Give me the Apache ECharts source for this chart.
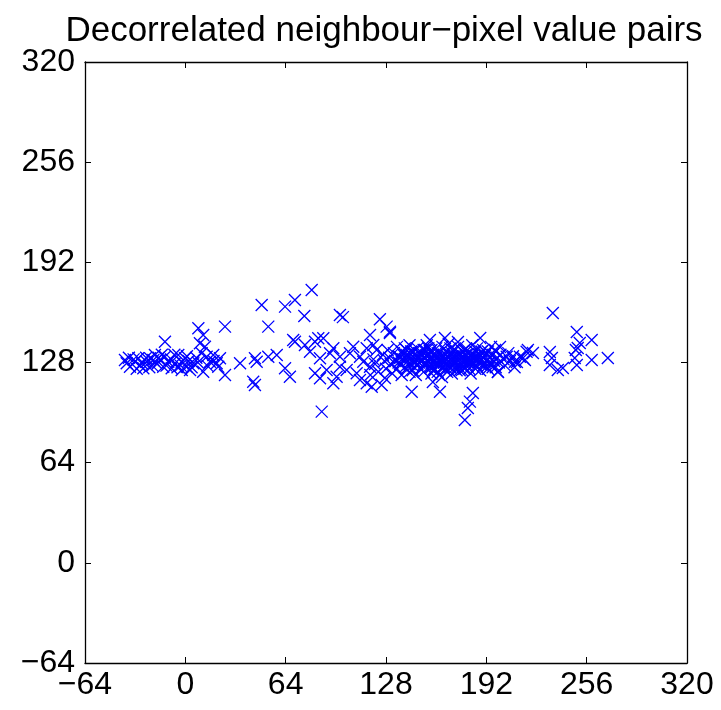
<!DOCTYPE html>
<html>
<head>
<meta charset="utf-8">
<script src="https://cdn.jsdelivr.net/npm/echarts@6/dist/echarts.min.js"></script>
<style>html,body{margin:0;padding:0;background:#fff}#c{width:721px;height:710px}</style>
</head>
<body>
<div id="c"></div>
<script>
var titleText = "Decorrelated neighbour\u2212pixel value pairs";
var xTicks = [-64, 0, 64, 128, 192, 256, 320];
var yTicks = [-64, 0, 64, 128, 192, 256, 320];

// left part of the band
var leftPairs = [
 [-37.4,127.5],[-35.3,125.3],[-38.5,129.6],[-32.1,128.5],[-30.0,130.7],[-27.8,127.5],[-26.8,124.3],
 [-24.7,128.5],[-22.5,130.7],[-20.4,129.6],[-19.4,132.8],[-13.0,141.3],[-16.2,129.6],[-13.0,131.7],
 [-10.9,128.5],[-8.7,124.3],[-6.6,127.5],[-4.5,132.8],[-2.3,128.5],[-0.2,130.7],[0.9,125.3],
 [3.0,123.2],[5.1,127.5],[8.3,149.9],[11.4,145.6],[9.3,140.3],[12.5,138.1],[10.4,133.9],[13.6,131.7],
 [15.7,128.5],[11.4,122.1],[17.8,132.8],[20.0,127.5],[-2.3,123.2],[-14.1,125.3],
 [-33,130],[-29,126],[-18,127],[-12,126],[2,129],[7,131],[-5,125],
 [-36,131],[-31,124],[-25,131],[-21,126],[-15,133],[-9,130],[-7,133],[-3,126],[1,132],[4,125],
 [8,128],[14,126],[18,129],[-23,125],[-17,131]
];
// middle scattered pairs
var midPairs = [
 [22.1,130.7],[21.0,125.3],[25.3,120.0],[34.9,127.5],[44.4,130.7],[45.5,128.5],[52.9,131.7],[58.3,132.8],
 [43.3,115.7],[44.4,113.6],[63.6,124.3],[66.7,118.9],[25.3,150.9],[48.7,164.7],[52.9,150.9],[63.6,163.7],
 [69.9,167.9],[80.6,174.3],[75.9,157.7],[69.9,141.3],[68.8,142.4],[76.3,139.2],[79.5,134.9],[82.7,141.3],
 [84.8,143.5],[85.9,130.7],[82.7,121.1],[85.9,117.9],[87.0,96.6],
 [98.6,158.4],[100.5,157.0],[124.1,155.6],[130.5,147.7],[128.4,150.9],[117.8,145.6],[88.0,143.5],[94.4,137.1],
 [92.3,133.9],[98.6,131.7],[105.0,133.9],[107.1,138.1],[111.4,131.7],[115.7,137.1],[119.9,139.2],
 [90.1,123.2],[94.4,114.7],[96.5,118.9],[102.9,123.2],[109.3,121.1],[111.4,116.8],[115.7,114.7],
 [118.9,112.5],[125.2,113.6],[123.1,122.1],[117.8,125.3],[144.4,109.3],[98.6,125.3],[113.5,128.5],
 [130.5,146.9],[156.0,142.4],[165.6,143.7],[173.9,141.1],[127.3,118.1],[157.9,115.5],[163.7,118.7],
 [176.4,123.2],[162.4,109.3],[120,130],[122,136],[118,120],[121,127]
];
// dense cluster
var densePairs = [
 [126,133],[127,129],[128,124],[129,136],[130,131],[131,127],[132,121],[133,134],[134,129],[135,138],
 [135,124],[136,132],[137,127],[138,135],[138,120],[139,130],[140,125],[140,137],[141,133],[142,129],
 [143,122],[143,139],[144,131],[145,126],[145,135],[146,129],[147,133],[147,120],[148,127],[148,137],
 [149,131],[150,124],[150,134],[151,129],[152,136],[152,122],[153,131],[154,127],[154,139],[155,133],
 [156,125],[156,130],[157,136],[157,121],[158,128],[158,133],[159,124],[160,131],[160,137],[161,127],
 [162,134],[162,120],[163,130],[164,125],[164,138],[165,132],[165,128],[166,123],[166,135],[167,130],
 [168,126],[168,140],[169,133],[170,129],[170,121],[171,136],[172,131],[172,125],[173,128],[174,134],
 [174,138],[175,123],[175,130],[176,127],[177,135],[177,132],[178,129],[178,124],[179,137],[180,131],
 [180,126],[181,134],[182,129],[182,121],[183,139],[183,132],[184,127],[185,135],[185,124],[186,130],
 [186,137],[187,128],[188,133],[188,123],[189,130],[190,136],[190,126],[191,132],[192,129],[193,135],
 [193,124],[194,131],[195,127],[195,138],[196,133],[197,129],[198,125],[198,135],[199,131],[200,128],
 [201,133],[203,130],[204,126],[206,134],[207,129],[209,132],[210,125],
 [142,131],[146,128],[151,132],[155,129],[159,132],[163,128],[167,132],[171,128],[176,131],[179,133],
 [153,126],[161,134],[169,125],[144,135],[149,128],[173,132],[157,130],[165,130],[181,129],[187,131],
 [136,128],[139,133],[141,124],[143,127],[147,130],[150,129],[152,127],[154,132],[156,135],[158,123],
 [160,127],[162,130],[164,133],[166,127],[168,131],[170,134],[172,128],[174,126],[176,133],[178,136],
 [180,128],[182,132],[184,130],[186,126],[188,129],[190,131],[192,134],[194,128],[196,125],[141,136],
 [145,123],[149,134],[153,136],[157,125],[161,122],[165,125],[169,137],[173,123],[177,126],[181,124],
 [185,132],[189,135],[137,131],[155,137],[167,122],[179,129],[191,128],[159,129],[171,132],[183,128]
];
// right side pairs
var rightPairs = [
 [188.1,143.6],[197.6,136.0],[200.7,137.9],[205.0,131.7],[199.4,122.1],[192.2,125.3],[210.2,128.5],
 [213.4,131.7],[217.7,134.9],[221.7,134.1],[216.6,129.6],[183.4,108.5],[181.5,103.0],[178.3,91.3],
 [180.2,98.9],[234.4,159.6],[249.7,147.5],[259.2,142.4],[251.6,140.5],[250.3,137.3],[269.5,130.9],
 [259.2,129.6],[232.5,134.7],[233.8,130.9],[232.5,126.4],[237.6,123.2],[240.8,124.5],[248.4,130.9],
 [249.7,126.4],[218.5,136.0],[215.4,130.9],[211.5,128.3],[199.4,121.9],[249.1,136.0]
];

var allPairs = leftPairs.concat(midPairs, densePairs, rightPairs);

var FONT = 'Liberation Sans, Arial, Helvetica, sans-serif';
var chart = echarts.init(document.getElementById('c'));
var axisCommon = {
  min: -64, max: 320, interval: 64,
  axisLine: {show: true, onZero: false, lineStyle: {color: '#000', width: 1.3}},
  axisTick: {show: true, inside: true, length: 6, lineStyle: {color: '#000', width: 1}},
  splitLine: {show: false}
};
chart.setOption({
  animation: false,
  backgroundColor: '#fff',
  title: {
    text: titleText, left: 379, top: 9, textAlign: 'center',
    textStyle: {fontFamily: FONT, fontSize: 35, fontWeight: 'normal', color: '#000'}
  },
  grid: {left: 85, right: 34, top: 62, bottom: 47, show: false},
  xAxis: [
    Object.assign({type: 'value', position: 'bottom',
      axisLabel: {show: true, margin: 6, fontFamily: FONT, fontSize: 32, color: '#000',
        formatter: function (v) { return xTicks.indexOf(v) >= 0 ? String(v).replace('-', '\u2212') : ''; }}}, axisCommon),
    Object.assign({type: 'value', position: 'top', axisLabel: {show: false}}, axisCommon)
  ],
  yAxis: [
    Object.assign({type: 'value', position: 'left',
      axisLabel: {show: true, margin: 10, fontFamily: FONT, fontSize: 32, color: '#000',
        formatter: function (v) { return yTicks.indexOf(v) >= 0 ? String(v).replace('-', '\u2212') : ''; }}}, axisCommon),
    Object.assign({type: 'value', position: 'right', axisLabel: {show: false}}, axisCommon)
  ],
  series: [{
    type: 'scatter',
    xAxisIndex: 0, yAxisIndex: 0,
    data: allPairs,
    symbol: 'path://M0,0L10,10M10,0L0,10',
    symbolSize: 12,
    itemStyle: {color: 'none', borderColor: '#0000ff', borderWidth: 1.3, opacity: 1},
    emphasis: {disabled: true}
  }]
});
</script>
</body>
</html>
